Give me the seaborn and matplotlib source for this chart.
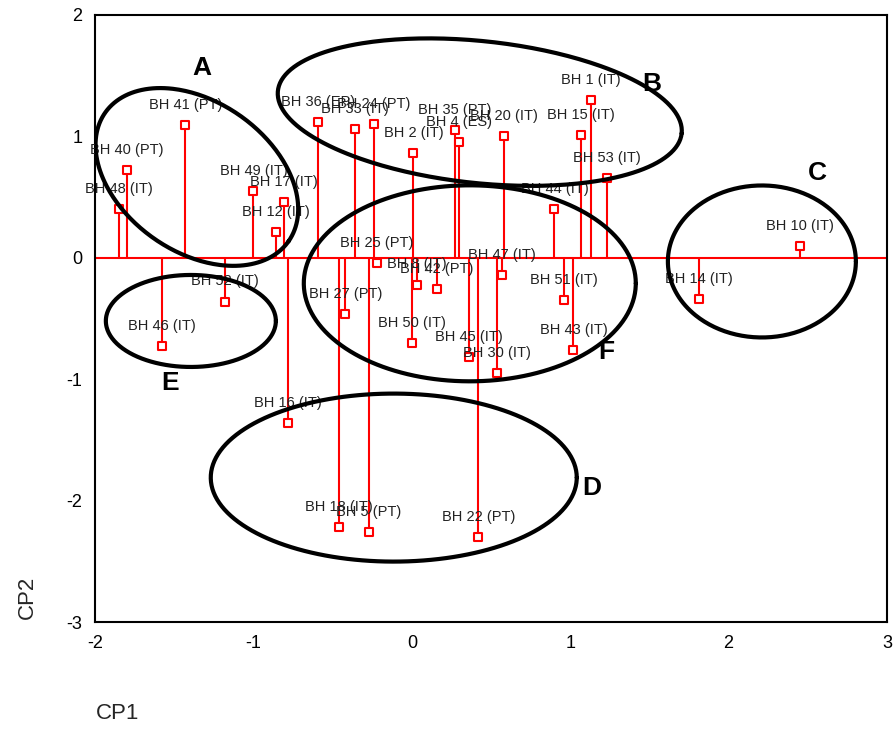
import numpy as np
import pandas as pd
import seaborn as sns
import matplotlib.pyplot as plt

# sample labels and PCA scores (CP1, CP2)
labels = ["BH 41 (PT)", "BH 40 (PT)", "BH 48 (IT)", "BH 49 (IT)", "BH 17 (IT)",
          "BH 12 (IT)", "BH 36 (EP)", "BH 33 (IT)", "BH 24 (PT)", "BH 2 (IT)",
          "BH 35 (PT)", "BH 4 (ES)", "BH 20 (IT)", "BH 1 (IT)", "BH 15 (IT)",
          "BH 53 (IT)", "BH 44 (IT)", "BH 10 (IT)", "BH 14 (IT)", "BH 25 (PT)",
          "BH 27 (PT)", "BH 8 (IT)", "BH 42 (PT)", "BH 47 (IT)", "BH 50 (IT)",
          "BH 45 (IT)", "BH 30 (IT)", "BH 51 (IT)", "BH 43 (IT)", "BH 52 (IT)",
          "BH 46 (IT)", "BH 16 (IT)", "BH 18 (IT)", "BH 5 (PT)", "BH 22 (PT)"]
cp1 = [-1.43, -1.80, -1.85, -1.00, -0.81,
       -0.86, -0.59, -0.36, -0.24, 0.01,
       0.27, 0.30, 0.58, 1.13, 1.07,
       1.23, 0.90, 2.45, 1.81, -0.22,
       -0.42, 0.03, 0.16, 0.57, 0.00,
       0.36, 0.54, 0.96, 1.02, -1.18,
       -1.58, -0.78, -0.46, -0.27, 0.42]
cp2 = [1.09, 0.72, 0.40, 0.55, 0.46,
       0.21, 1.12, 1.06, 1.10, 0.86,
       1.05, 0.95, 1.00, 1.30, 1.01,
       0.66, 0.40, 0.10, -0.34, -0.04,
       -0.46, -0.22, -0.26, -0.14, -0.70,
       -0.82, -0.95, -0.35, -0.76, -0.36,
       -0.73, -1.36, -2.22, -2.26, -2.30]

# group ellipses: letter, centre (data), semi-axes (px), angle (deg), letter position
groups = ["A", "B", "C", "D", "E", "F"]
group_centre = [(-1.357, 0.666), (0.429, 1.20), (2.21, -0.03),
                (-0.114, -1.81), (-1.395, -0.52), (0.366, -0.21)]
group_axes = [(112, 75), (203, 71), (94, 76), (183, 84), (85, 46), (166, 98)]
group_angle = [-35, -6, 0, 0, 0, 0]
group_letter_pos = [(-1.326, 1.563), (1.515, 1.43), (2.563, 0.70),
                    (1.136, -1.896), (-1.528, -1.03), (1.225, -0.775)]

df = pd.DataFrame({"CP1": cp1, "CP2": cp2, "label": labels})

sns.set_style("white")
plt.rcParams['font.family'] = ['Liberation Sans', 'DejaVu Sans']
plt.rcParams['axes.unicode_minus'] = False

fig = plt.figure(figsize=(8.93, 7.31), dpi=100)
ax = fig.add_axes([0.1064, 0.149, 0.8869, 0.8305])

ax.set_xlim(-2, 3)
ax.set_ylim(-3, 2)

# stems from zero line
ax.axhline(0, color='red', lw=1.5, zorder=2)
ax.vlines(df["CP1"], 0, df["CP2"], color='red', lw=1.5, zorder=2)
sns.scatterplot(data=df, x="CP1", y="CP2", marker='s', s=36, color='white',
                edgecolor='red', linewidth=1.5, zorder=3, ax=ax, legend=False)

for _, r in df.iterrows():
    ax.annotate(r["label"], (r["CP1"], r["CP2"]), xytext=(0, 14.5),
                textcoords='offset points', ha='center', va='center',
                fontsize=10.5, color='#222222', zorder=4)

# ellipses drawn in pixel space so they look like the hand-drawn ones
sx = ax.get_position().width * fig.get_figwidth() * fig.dpi / 5.0
sy = ax.get_position().height * fig.get_figheight() * fig.dpi / 5.0
t = np.linspace(0, 2 * np.pi, 300)
for (cx, cy), (a, b), ang in zip(group_centre, group_axes, group_angle):
    th = np.deg2rad(ang)
    px = a * np.cos(t) * np.cos(th) - b * np.sin(t) * np.sin(th)
    py = a * np.cos(t) * np.sin(th) + b * np.sin(t) * np.cos(th)
    ax.plot(cx + px / sx, cy + py / sy, color='black', lw=3, zorder=5)

for g, (lx, ly) in zip(groups, group_letter_pos):
    ax.text(lx, ly, g, fontsize=19, fontweight='bold', ha='center', va='center',
            color='black', zorder=6)

ax.set_xticks([-2, -1, 0, 1, 2, 3])
ax.set_yticks([-3, -2, -1, 0, 1, 2])
ax.tick_params(axis='both', direction='out', length=5, width=1.2,
               labelsize=13, colors='black', pad=4)
for s in ax.spines.values():
    s.set_color('black')
    s.set_linewidth(1.5)

ax.set_xlabel("CP1", fontsize=16)
ax.set_ylabel("CP2", fontsize=16)
ax.xaxis.set_label_coords(0.028, -0.133)
ax.yaxis.set_label_coords(-0.072, 0.04)

fig.savefig("out.png", dpi=100)
